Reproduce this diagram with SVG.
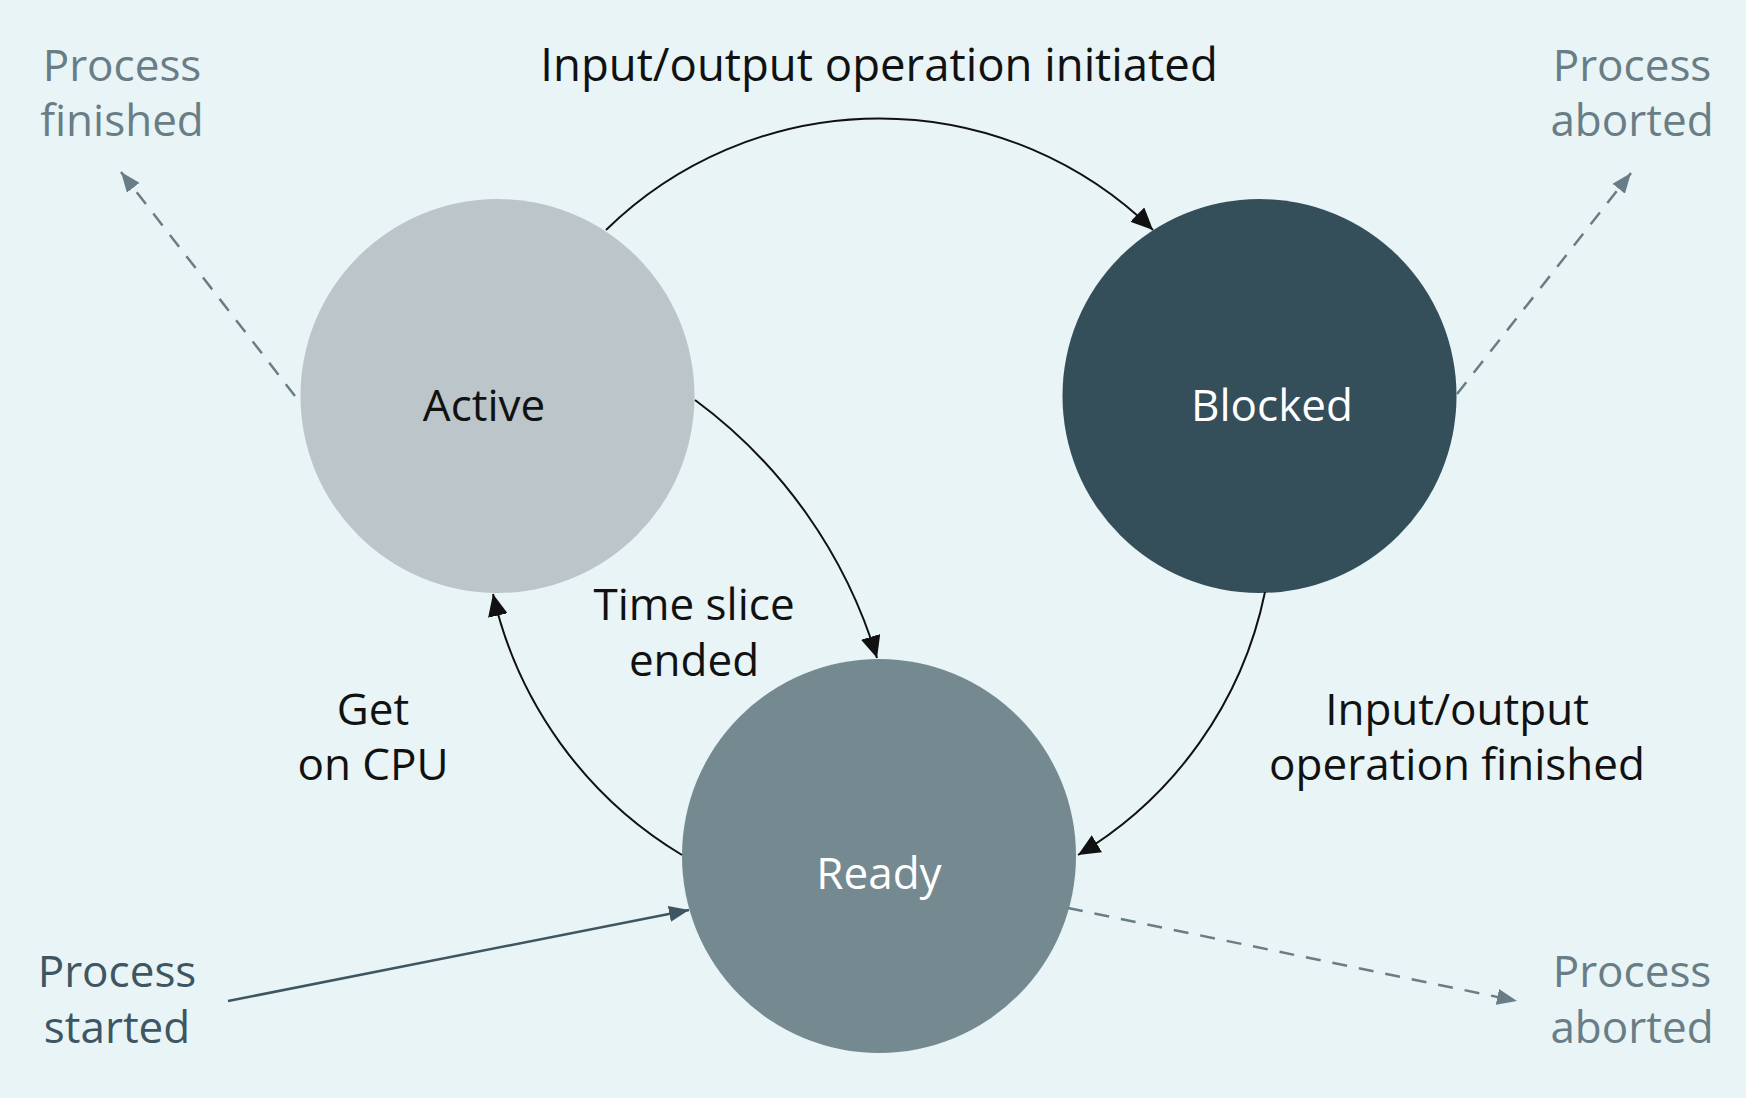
<svg xmlns="http://www.w3.org/2000/svg" width="1746" height="1098" viewBox="0 0 1746 1098">
  <style>
    .t { font-family: "Open Sans", "Noto Sans", "DejaVu Sans", sans-serif; font-size: 44px; text-anchor: middle; }
    .dark { fill: #111111; }
    .light { fill: #ffffff; }
    .gray { fill: #687d86; }
    .slate { fill: #3e5662; }
    .edge { fill: none; stroke: #111111; stroke-width: 2; }
    .dash { fill: none; stroke: #687d86; stroke-width: 2.5; stroke-dasharray: 15 12; }
    .start { fill: none; stroke: #3e5662; stroke-width: 2.5; }
  </style>
  <defs>
    <marker id="ah" viewBox="0 0 22 20" refX="22" refY="10" markerWidth="22" markerHeight="20" markerUnits="userSpaceOnUse" orient="auto">
      <path d="M0,0 L22,10 L0,20 z" fill="#111111"/>
    </marker>
    <marker id="ahg" viewBox="0 0 20 16" refX="20" refY="8" markerWidth="20" markerHeight="16" markerUnits="userSpaceOnUse" orient="auto">
      <path d="M0,0 L20,8 L0,16 z" fill="#687d86"/>
    </marker>
    <marker id="ahs" viewBox="0 0 20 16" refX="20" refY="8" markerWidth="20" markerHeight="16" markerUnits="userSpaceOnUse" orient="auto">
      <path d="M0,0 L20,8 L0,16 z" fill="#3e5662"/>
    </marker>
  </defs>
  <rect x="0" y="0" width="1746" height="1098" fill="#e8f4f5"/>

  <g id="node-active">
    <circle cx="497.5" cy="396" r="197" fill="#bcc5c9"/>
    <text class="t dark" x="484" y="421">Active</text>
  </g>
  <g id="node-blocked">
    <circle cx="1259.5" cy="396" r="197" fill="#344e5a"/>
    <text class="t light" x="1272" y="421">Blocked</text>
  </g>
  <g id="node-ready">
    <circle cx="879" cy="856" r="197" fill="#758990"/>
    <text class="t light" x="879" y="889">Ready</text>
  </g>

  <g id="terminal-labels">
    <text class="t gray" x="122" y="81">Process</text>
    <text class="t gray" x="122" y="136">finished</text>
    <text class="t gray" x="1632" y="81">Process</text>
    <text class="t gray" x="1632" y="136">aborted</text>
    <text class="t gray" x="1632" y="987">Process</text>
    <text class="t gray" x="1632" y="1043">aborted</text>
    <text class="t slate" x="117" y="987">Process</text>
    <text class="t slate" x="117" y="1043">started</text>
  </g>

  <g id="connectors">
    <path class="edge" d="M606,230 A391,391 0 0 1 1153,230" marker-end="url(#ah)"/>
    <path class="edge" d="M695,400 A500,500 0 0 1 877,658" marker-end="url(#ah)"/>
    <path class="edge" d="M682,855 A410,410 0 0 1 493,594" marker-end="url(#ah)"/>
    <path class="edge" d="M1265,592 A400,400 0 0 1 1078,855" marker-end="url(#ah)"/>
    <path class="dash" d="M295,396 L121,172" marker-end="url(#ahg)"/>
    <path class="dash" d="M1457,394 L1631,173" marker-end="url(#ahg)"/>
    <path class="dash" d="M1068,908 L1517,1001" marker-end="url(#ahg)"/>
    <path class="start" d="M228,1001 L689,910" marker-end="url(#ahs)"/>
  </g>

  <g id="edge-labels">
    <text class="t dark" x="879" y="81" style="font-size:45.5px">Input/output operation initiated</text>
    <text class="t dark" x="694" y="620">Time slice</text>
    <text class="t dark" x="694" y="676">ended</text>
    <text class="t dark" x="373" y="725">Get</text>
    <text class="t dark" x="373" y="780">on CPU</text>
    <text class="t dark" x="1457" y="725">Input/output</text>
    <text class="t dark" x="1457" y="780">operation finished</text>
  </g>
</svg>
